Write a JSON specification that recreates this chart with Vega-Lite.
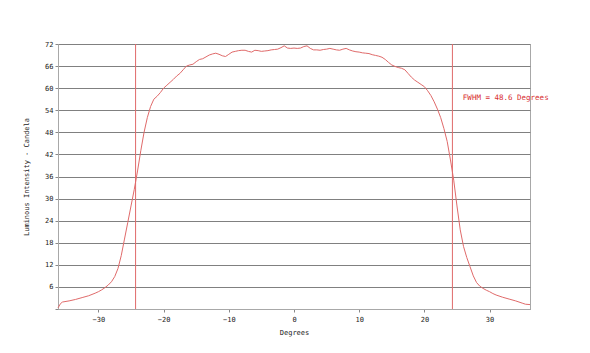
{
  "$schema": "https://vega.github.io/schema/vega-lite/v6.json",
  "autosize": "none",
  "width": 472,
  "height": 265,
  "padding": {"left": 58, "top": 44, "right": 60, "bottom": 44},
  "background": "white",
  "config": {
    "font": "DejaVu Sans Mono",
    "view": {"stroke": "#a8a8a8", "strokeWidth": 1},
    "axis": {"labelFont": "DejaVu Sans Mono", "titleFont": "DejaVu Sans Mono", "labelFontSize": 7, "titleFontSize": 7, "titleFontWeight": "normal", "labelColor": "#222", "titleColor": "#222", "domainColor": "#a8a8a8", "tickColor": "#888", "tickSize": 3, "labelOverlap": false, "labelFlush": false}
  },
  "datasets": {
    "curve": [
      {"deg": -36.2, "cd": 0.3}, {"deg": -35.8, "cd": 1.5}, {"deg": -35.5, "cd": 1.9}, {"deg": -34.5, "cd": 2.2},
      {"deg": -33.5, "cd": 2.6}, {"deg": -32.5, "cd": 3.1}, {"deg": -31.5, "cd": 3.6}, {"deg": -30.5, "cd": 4.3},
      {"deg": -30.0, "cd": 4.7}, {"deg": -29.5, "cd": 5.2}, {"deg": -29.0, "cd": 5.8}, {"deg": -28.5, "cd": 6.5},
      {"deg": -28.0, "cd": 7.4}, {"deg": -27.5, "cd": 8.8}, {"deg": -27.0, "cd": 11.0}, {"deg": -26.5, "cd": 14.5},
      {"deg": -26.0, "cd": 19.0}, {"deg": -25.5, "cd": 23.5}, {"deg": -25.0, "cd": 28.0}, {"deg": -24.5, "cd": 32.5},
      {"deg": -24.0, "cd": 37.5}, {"deg": -23.5, "cd": 43.0}, {"deg": -23.0, "cd": 48.0}, {"deg": -22.5, "cd": 52.0},
      {"deg": -22.0, "cd": 55.0}, {"deg": -21.5, "cd": 57.0}, {"deg": -21.0, "cd": 57.8}, {"deg": -20.5, "cd": 58.8},
      {"deg": -20.0, "cd": 60.0}, {"deg": -19.5, "cd": 60.8}, {"deg": -19.0, "cd": 61.6}, {"deg": -18.5, "cd": 62.4},
      {"deg": -18.0, "cd": 63.3}, {"deg": -17.5, "cd": 64.0}, {"deg": -17.0, "cd": 65.0}, {"deg": -16.5, "cd": 66.0},
      {"deg": -16.0, "cd": 66.3}, {"deg": -15.5, "cd": 66.5}, {"deg": -15.0, "cd": 67.2}, {"deg": -14.5, "cd": 67.8},
      {"deg": -14.0, "cd": 68.0}, {"deg": -13.5, "cd": 68.5}, {"deg": -13.0, "cd": 69.0}, {"deg": -12.5, "cd": 69.3},
      {"deg": -12.0, "cd": 69.5}, {"deg": -11.5, "cd": 69.2}, {"deg": -11.0, "cd": 68.8}, {"deg": -10.5, "cd": 68.6},
      {"deg": -10.0, "cd": 69.2}, {"deg": -9.5, "cd": 69.8}, {"deg": -9.0, "cd": 70.0}, {"deg": -8.5, "cd": 70.2},
      {"deg": -8.0, "cd": 70.3}, {"deg": -7.5, "cd": 70.3}, {"deg": -7.0, "cd": 70.0}, {"deg": -6.5, "cd": 69.8},
      {"deg": -6.0, "cd": 70.3}, {"deg": -5.5, "cd": 70.2}, {"deg": -5.0, "cd": 70.0}, {"deg": -4.5, "cd": 70.1},
      {"deg": -4.0, "cd": 70.2}, {"deg": -3.5, "cd": 70.4}, {"deg": -3.0, "cd": 70.5}, {"deg": -2.5, "cd": 70.6},
      {"deg": -2.0, "cd": 71.0}, {"deg": -1.5, "cd": 71.5}, {"deg": -1.0, "cd": 70.9}, {"deg": -0.5, "cd": 70.8},
      {"deg": 0.0, "cd": 70.9}, {"deg": 0.5, "cd": 70.8}, {"deg": 1.0, "cd": 70.9}, {"deg": 1.5, "cd": 71.3},
      {"deg": 2.0, "cd": 71.5}, {"deg": 2.5, "cd": 70.8}, {"deg": 3.0, "cd": 70.4}, {"deg": 3.5, "cd": 70.4},
      {"deg": 4.0, "cd": 70.3}, {"deg": 4.5, "cd": 70.5}, {"deg": 5.0, "cd": 70.6}, {"deg": 5.5, "cd": 70.8},
      {"deg": 6.0, "cd": 70.6}, {"deg": 6.5, "cd": 70.4}, {"deg": 7.0, "cd": 70.3}, {"deg": 7.5, "cd": 70.6},
      {"deg": 8.0, "cd": 70.8}, {"deg": 8.5, "cd": 70.4}, {"deg": 9.0, "cd": 70.1}, {"deg": 9.5, "cd": 69.9},
      {"deg": 10.0, "cd": 69.8}, {"deg": 10.5, "cd": 69.6}, {"deg": 11.0, "cd": 69.5}, {"deg": 11.5, "cd": 69.4},
      {"deg": 12.0, "cd": 69.1}, {"deg": 12.5, "cd": 68.9}, {"deg": 13.0, "cd": 68.7}, {"deg": 13.5, "cd": 68.4},
      {"deg": 14.0, "cd": 67.8}, {"deg": 14.5, "cd": 67.0}, {"deg": 15.0, "cd": 66.3}, {"deg": 15.5, "cd": 65.9},
      {"deg": 16.0, "cd": 65.6}, {"deg": 16.5, "cd": 65.4}, {"deg": 17.0, "cd": 65.0}, {"deg": 17.5, "cd": 64.0},
      {"deg": 18.0, "cd": 63.0}, {"deg": 18.5, "cd": 62.2}, {"deg": 19.0, "cd": 61.6}, {"deg": 19.5, "cd": 61.0},
      {"deg": 20.0, "cd": 60.4}, {"deg": 20.5, "cd": 59.3}, {"deg": 21.0, "cd": 58.0}, {"deg": 21.5, "cd": 56.3},
      {"deg": 22.0, "cd": 54.3}, {"deg": 22.5, "cd": 52.0}, {"deg": 23.0, "cd": 49.0}, {"deg": 23.5, "cd": 45.5},
      {"deg": 24.0, "cd": 40.5}, {"deg": 24.5, "cd": 35.0}, {"deg": 25.0, "cd": 28.0}, {"deg": 25.5, "cd": 21.5},
      {"deg": 26.0, "cd": 17.0}, {"deg": 26.5, "cd": 14.0}, {"deg": 27.0, "cd": 11.5}, {"deg": 27.5, "cd": 9.0},
      {"deg": 28.0, "cd": 7.2}, {"deg": 28.5, "cd": 6.2}, {"deg": 29.0, "cd": 5.6}, {"deg": 29.5, "cd": 5.1},
      {"deg": 30.0, "cd": 4.7}, {"deg": 30.5, "cd": 4.2}, {"deg": 31.0, "cd": 3.8}, {"deg": 32.0, "cd": 3.2},
      {"deg": 33.0, "cd": 2.7}, {"deg": 34.0, "cd": 2.2}, {"deg": 35.0, "cd": 1.6}, {"deg": 35.5, "cd": 1.3},
      {"deg": 36.2, "cd": 1.2}
    ],
    "fwhm": [{"deg": -24.3}, {"deg": 24.3}],
    "note": [{"deg": 25.9, "cd": 57.3, "label": "FWHM = 48.6 Degrees"}]
  },
  "layer": [
    {
      "data": {"name": "curve"},
      "mark": {"type": "line", "color": "#e06a6a", "strokeWidth": 1, "interpolate": "linear"},
      "encoding": {
        "x": {"field": "deg", "type": "quantitative", "scale": {"domain": [-36.2, 36.2], "nice": false, "zero": false},
              "axis": {"title": "Degrees", "values": [-30, -20, -10, 0, 10, 20, 30], "grid": false, "labelPadding": 3, "titlePadding": 6}},
        "y": {"field": "cd", "type": "quantitative", "scale": {"domain": [0, 72], "nice": false},
              "axis": {"title": "Luminous Intensity - Candela", "values": [0, 6, 12, 18, 24, 30, 36, 42, 48, 54, 60, 66, 72],
                       "labelExpr": "datum.value === 0 ? '' : datum.label", "grid": true,
                       "gridColor": "#808080", "gridWidth": 1, "labelPadding": 2, "titlePadding": 15}}
      }
    },
    {
      "data": {"name": "fwhm"},
      "mark": {"type": "rule", "color": "#e06a6a", "strokeWidth": 1},
      "encoding": {"x": {"field": "deg", "type": "quantitative",
              "axis": {"title": "Degrees", "values": [-30, -20, -10, 0, 10, 20, 30], "grid": false, "labelPadding": 3, "titlePadding": 6}}}
    },
    {
      "data": {"name": "note"},
      "mark": {"type": "text", "color": "#d83030", "align": "left", "baseline": "middle", "font": "DejaVu Sans Mono", "fontSize": 7.5},
      "encoding": {
        "x": {"field": "deg", "type": "quantitative",
              "axis": {"title": "Degrees", "values": [-30, -20, -10, 0, 10, 20, 30], "grid": false, "labelPadding": 3, "titlePadding": 6}},
        "y": {"field": "cd", "type": "quantitative",
              "axis": {"title": "Luminous Intensity - Candela", "values": [0, 6, 12, 18, 24, 30, 36, 42, 48, 54, 60, 66, 72],
                       "labelExpr": "datum.value === 0 ? '' : datum.label", "grid": true,
                       "gridColor": "#808080", "gridWidth": 1, "labelPadding": 2, "titlePadding": 15}},
        "text": {"field": "label"}
      }
    }
  ]
}
